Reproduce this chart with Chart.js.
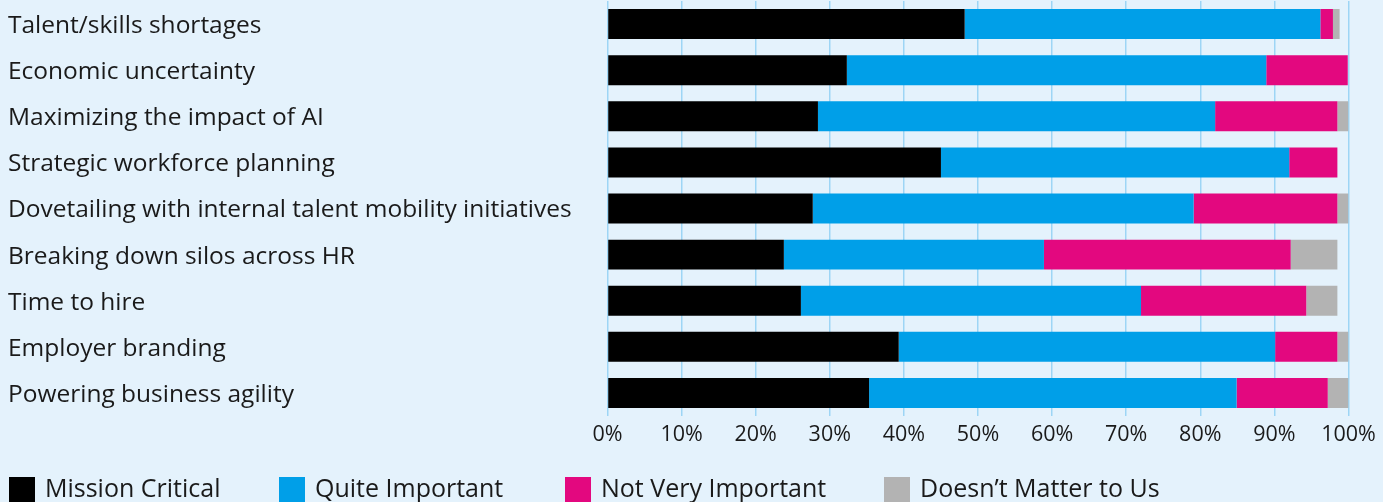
<!DOCTYPE html>
<html>
<head>
<meta charset="utf-8">
<script src="https://cdn.jsdelivr.net/npm/chart.js@4"></script>
<style>
  html, body { margin: 0; padding: 0; background: #e4f2fc; }
  #wrap { width: 1383px; height: 502px; }
</style>
</head>
<body>
<div id="wrap"><canvas id="chart" width="1383" height="502"></canvas></div>
<script>
// ── Data ────────────────────────────────────────────
const categories = [
  'Talent/skills shortages',
  'Economic uncertainty',
  'Maximizing the impact of AI',
  'Strategic workforce planning',
  'Dovetailing with internal talent mobility initiatives',
  'Breaking down silos across HR',
  'Time to hire',
  'Employer branding',
  'Powering business agility',
];

const missionCritical  = [48.2, 32.3, 28.4, 45.0, 27.7, 23.8, 26.1, 39.3, 35.3];
const quiteImportant   = [48.0, 56.6, 53.6, 47.0, 51.4, 35.1, 45.9, 50.8, 49.6];
const notVeryImportant = [ 1.7, 11.0, 16.5,  6.5, 19.4, 33.3, 22.3,  8.4, 12.3];
const doesntMatter     = [ 0.9,  0.0,  1.5,  0.0,  1.5,  6.3,  4.2,  1.5,  2.8];

const seriesNames = ['Mission Critical', 'Quite Important', 'Not Very Important', 'Doesn\u2019t Matter to Us'];
const tickValues  = [0, 10, 20, 30, 40, 50, 60, 70, 80, 90, 100];

// ── Style ───────────────────────────────────────────
const FONT = "'Open Sans', sans-serif";
const TEXT = '#1a1a1a';
const colors = ['#000000', '#009fe8', '#e3087f', '#b3b3b3'];

// legend drawn in a row under the axis, like the source
const legendRow = {
  id: 'legendRow',
  afterDraw(chart) {
    const { ctx } = chart;
    const xs = [9, 279, 565, 884];
    ctx.save();
    ctx.font = `25px ${FONT}`;
    ctx.textBaseline = 'middle';
    chart.data.datasets.forEach((ds, i) => {
      ctx.fillStyle = ds.backgroundColor;
      ctx.fillRect(xs[i], 477, 26, 26);
      ctx.fillStyle = TEXT;
      ctx.fillText(ds.label, xs[i] + 36, 490);
    });
    ctx.restore();
  }
};

const values = [missionCritical, quiteImportant, notVeryImportant, doesntMatter];

new Chart(document.getElementById('chart'), {
  type: 'bar',
  data: {
    labels: categories,
    datasets: seriesNames.map((name, i) => ({
      label: name,
      data: values[i],
      backgroundColor: colors[i],
      borderWidth: 0,
      barPercentage: 0.65,
      categoryPercentage: 1,
    })),
  },
  options: {
    indexAxis: 'y',
    responsive: false,
    animation: false,
    layout: { padding: { left: 8, right: 34.5, top: 1, bottom: 40 } },
    plugins: {
      legend: { display: false },
      tooltip: { enabled: false },
    },
    scales: {
      x: {
        stacked: true,
        min: 0,
        max: 100,
        afterBuildTicks: (scale) => { scale.ticks = tickValues.map(v => ({ value: v })); },
        afterFit: (scale) => { scale.height = 46; scale.paddingLeft = 0; scale.paddingRight = 0; },
        grid: { color: '#9dd5f5', lineWidth: 1.5, drawTicks: false },
        border: { display: false },
        ticks: {
          color: TEXT,
          font: { family: FONT, size: 21.5 },
          padding: 6,
          callback: (v) => v + '%',
        },
      },
      y: {
        stacked: true,
        afterFit: (scale) => { scale.width = 599.5; scale.paddingTop = 0; scale.paddingBottom = 0; },
        grid: { display: false },
        border: { display: false },
        ticks: {
          color: TEXT,
          font: { family: FONT, size: 24.5 },
          crossAlign: 'far',
          labelOffset: 2,
        },
      },
    },
  },
  plugins: [legendRow],
});
</script>
</body>
</html>
